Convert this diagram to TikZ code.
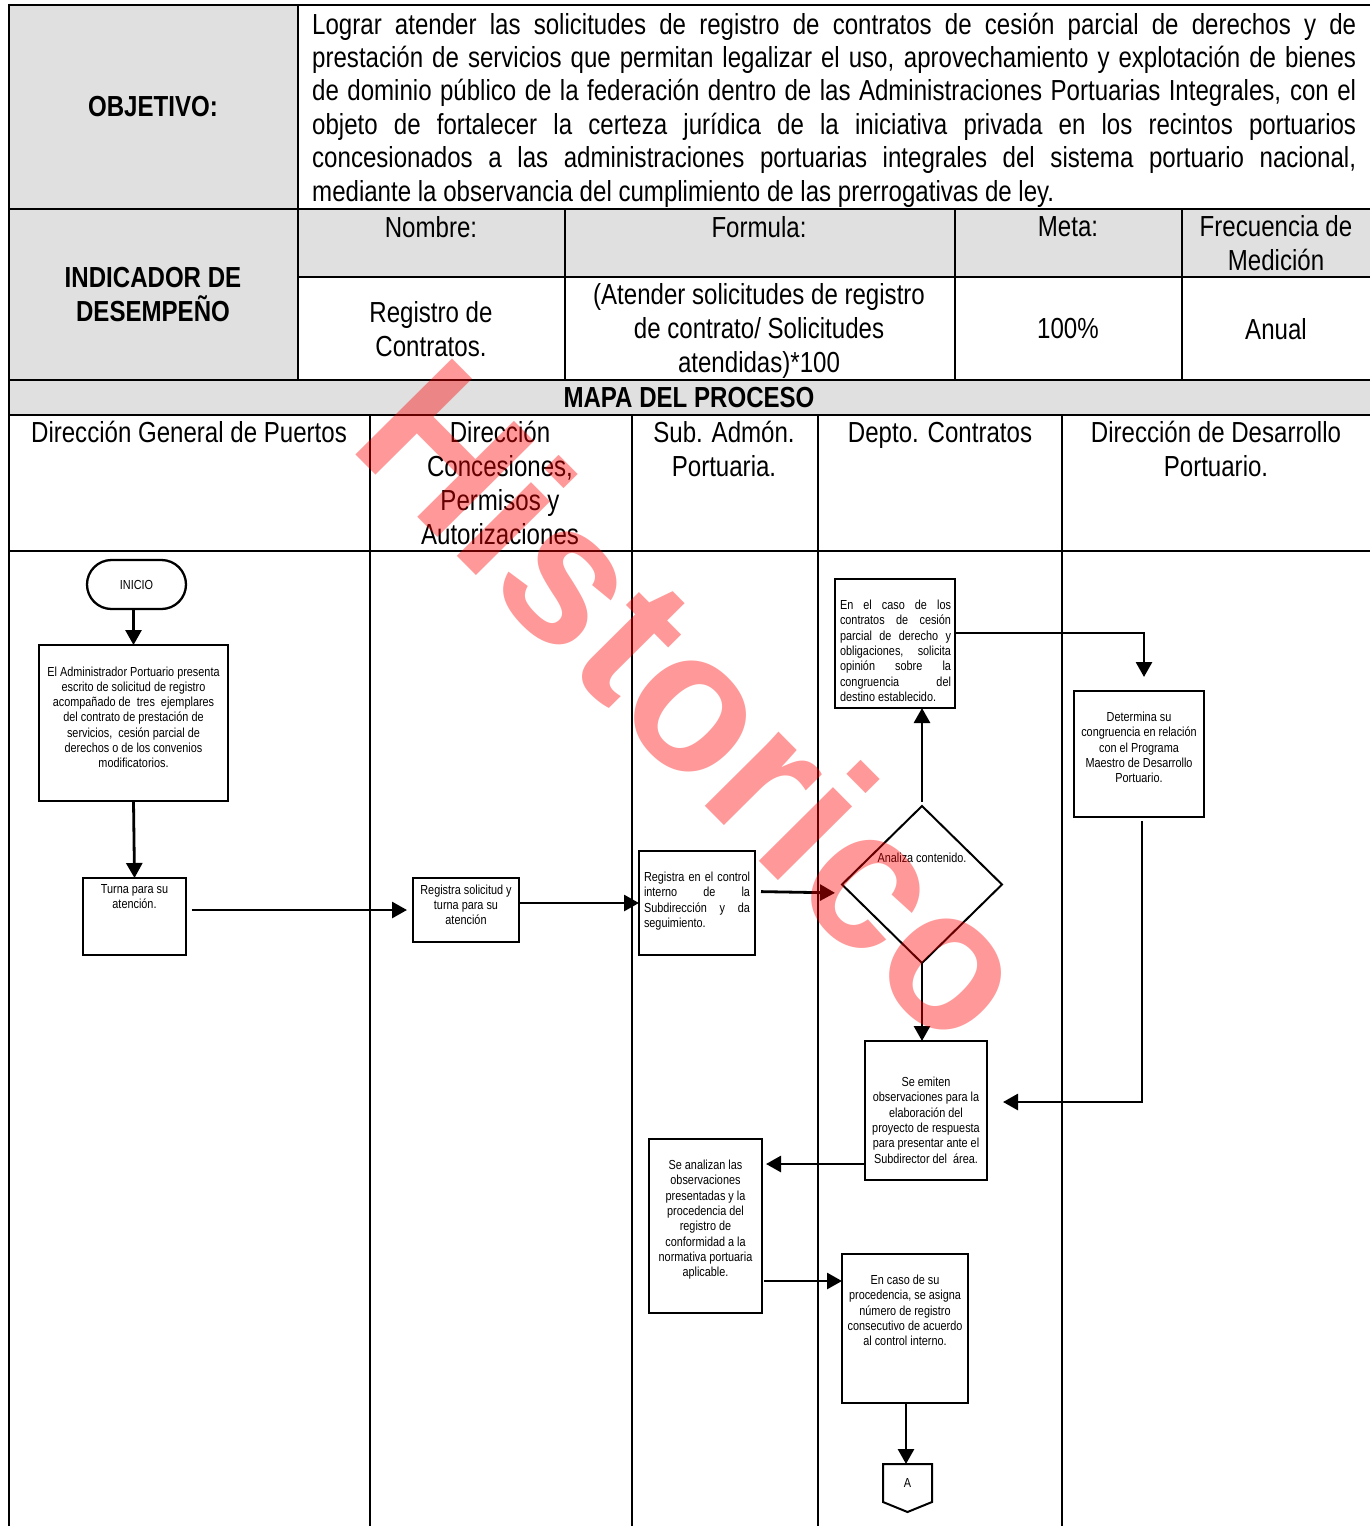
\documentclass[tikz,border=0pt]{standalone}
\usepackage{fontspec}
\setmainfont{Liberation Sans}[FakeStretch=0.83]
\newfontfamily\wmfont{Liberation Sans}
\usetikzlibrary{arrows.meta,shapes.geometric,shapes.misc,calc}
\newcommand{\mainf}{\fontsize{29}{34}\selectfont}
\newcommand{\flowf}{\fontsize{13.1}{15.3}\selectfont}
\newcommand{\fb}[4]{\parbox[c][#2pt][t]{#1pt}{\vspace*{#3pt}\centering #4\par}}
\newcommand{\fj}[4]{\parbox[c][#2pt][t]{#1pt}{\vspace*{#3pt}#4\par}}
\newcommand{\jl}[2]{\hbox to \hsize{\hskip 5pt\hbox to #1pt{#2}\hss}}
\newcommand{\ol}[1]{\hbox to 1044pt{#1}}
\definecolor{cellgrey}{HTML}{E0E0E0}
\tikzset{
  grid/.style={line width=2.8pt,black},
  celltxt/.style={font=\mainf,align=center,inner sep=0pt},
  celltxtb/.style={font=\mainf\bfseries,align=center,inner sep=0pt},
  flowbox/.style={draw=black,line width=2.3pt,inner sep=0pt,outer sep=0pt,font=\flowf},
  flow/.style={line width=2.8pt,black,-{Triangle[length=15pt,width=16pt]}},
}
\begin{document}
\begin{tikzpicture}[x=1pt,y=-1pt]
\useasboundingbox (0,0) rectangle (1370,1526);
\fill[white] (0,0) rectangle (1370,1526);
% grey cells
\fill[cellgrey] (9,5) rectangle (298,380);
\fill[cellgrey] (298,209) rectangle (1370,277);
\fill[cellgrey] (9,380) rectangle (1370,415);
% grid
\draw[grid] (9,5) -- (1370,5);
\draw[grid] (9,209) -- (1370,209);
\draw[grid] (298,277) -- (1370,277);
\draw[grid] (9,380) -- (1370,380);
\draw[grid] (9,415) -- (1370,415);
\draw[grid] (9,551) -- (1370,551);
\draw[grid] (9,3.6) -- (9,1526);
\draw[grid] (298,5) -- (298,380);
\draw[grid] (565,209) -- (565,380);
\draw[grid] (955,209) -- (955,380);
\draw[grid] (1182,209) -- (1182,380);
\draw[grid] (370,415) -- (370,1526);
\draw[grid] (632,415) -- (632,1526);
\draw[grid] (818,415) -- (818,1526);
\draw[grid] (1062,415) -- (1062,1526);
% table text
\node[celltxtb] (obj) at (153,107) {OBJETIVO:};
\node[font=\mainf,inner sep=0pt,anchor=north west] (objtxt) at (312,12.5) {\vbox{\hsize=1044pt\baselineskip=33.45pt
 \ol{Lograr atender las solicitudes de registro de contratos de cesión parcial de derechos y de}
 \ol{prestación de servicios que permitan legalizar el uso, aprovechamiento y explotación de bienes}
 \ol{de dominio público de la federación dentro de las Administraciones Portuarias Integrales, con el}
 \ol{objeto de fortalecer la certeza jurídica de la iniciativa privada en los recintos portuarios}
 \ol{concesionados a las administraciones portuarias integrales del sistema portuario nacional,}
 \hbox{mediante la observancia del cumplimiento de las prerrogativas de ley.}}};
\node[celltxtb] (ind) at (153,295) {INDICADOR DE\\DESEMPEÑO};
\node[celltxt] (h1) at (431,227) {Nombre:};
\node[celltxt] (h2) at (759,227) {Formula:};
\node[celltxt] (h3) at (1068,227) {Meta:};
\node[celltxt] (h4) at (1276,243.5) {Frecuencia de\\Medición};
\node[celltxt] (c1) at (431,329) {Registro de\\Contratos.};
\node[celltxt] (c2) at (759,330.5) {(Atender solicitudes de registro\\de contrato/ Solicitudes\\atendidas)*100};
\node[celltxt] (c3) at (1068,329) {100\%};
\node[celltxt] (c4) at (1276,329) {Anual};
\node[celltxtb] (mapa) at (689,398) {MAPA DEL PROCESO};
\node[celltxt] (s1) at (189,432) {Dirección General de Puertos};
\node[celltxt] (s2) at (500,483) {Dirección\\Concesiones,\\Permisos y\\Autorizaciones};
\node[celltxt] (s3) at (724,449) {Sub. Admón.\\Portuaria.};
\node[celltxt] (s4) at (940,435) {Depto. Contratos};
\node[celltxt] (s5) at (1216,449) {Dirección de Desarrollo\\Portuario.};
% flow nodes
\node[flowbox,rounded rectangle,minimum width=99pt,minimum height=49pt] (inicio) at (136.5,584.5) {\raisebox{-0.5pt}{INICIO}};
\node[flowbox] (admin) at (133.5,723) {\fb{189}{156}{21.5}{El Administrador Portuario presenta\\escrito de solicitud de registro\\acompañado de\ \ tres\ \ ejemplares\\del contrato de prestación de\\servicios,\ \ cesión parcial de\\derechos o de los convenios\\modificatorios.}};
\node[flowbox] (turna) at (134.5,916.5) {\fb{103}{77}{6}{Turna para su\\atención.}};
\node[flowbox] (regsol) at (466,910) {\fb{106}{64}{6.5}{Registra solicitud y\\turna para su\\atención}};
\node[flowbox] (regctl) at (697,903) {\fj{116}{104}{21}{\jl{106}{Registra en el control}\jl{106}{interno de la}\jl{106}{Subdirección y da}\jl{106}{seguimiento.\hfil}}};
\node[flowbox] (caso) at (895,643.5) {\fj{120}{129}{21}{\jl{111}{En el caso de los}\jl{111}{contratos de cesión}\jl{111}{parcial de derecho y}\jl{111}{obligaciones, solicita}\jl{111}{opinión sobre la}\jl{111}{congruencia del}\jl{111}{destino establecido.\hfil}}};
\node[draw=black,line width=2pt,inner sep=0pt,outer sep=0pt,font=\flowf,diamond,aspect=1,minimum width=160pt,minimum height=157pt] (dec) at (922,884.5) {\smash{\raisebox{22pt}{Analiza contenido.}}};
\node[flowbox] (det) at (1139,754) {\fb{130}{126}{21}{Determina su\\congruencia en relación\\con el Programa\\Maestro de Desarrollo\\Portuario.}};
\node[flowbox] (emit) at (926,1110.5) {\fb{122}{139}{36}{Se emiten\\observaciones para la\\elaboración del\\proyecto de respuesta\\para presentar ante el\\Subdirector del\ \ área.}};
\node[flowbox] (anal) at (705.5,1226) {\fb{113}{174}{21}{Se analizan las\\observaciones\\presentadas y la\\procedencia del\\registro de\\conformidad a la\\normativa portuaria\\aplicable.}};
\node[flowbox] (proc) at (905,1328.5) {\fb{126}{149}{21}{En caso de su\\procedencia, se asigna\\número de registro\\consecutivo de acuerdo\\al control interno.}};
\node[inner sep=0pt,outer sep=0pt,minimum width=49pt,minimum height=48pt,font=\flowf] (conn) at (907.5,1488) {\smash{\raisebox{1pt}{A}}};
\draw[line width=2pt] (conn.north west) -- (conn.north east) -- ($(conn.south east)+(0,-10)$) -- (conn.south) -- ($(conn.south west)+(0,-10)$) -- cycle;
% connectors
\coordinate (xa) at (133.5,0);
\coordinate (y1) at (0,910);
\coordinate (y2) at (0,903);
\coordinate (y8) at (0,891.5);
\coordinate (y9) at (0,893);
\coordinate (xb) at (922,0);
\coordinate (y3) at (0,633);
\coordinate (x4) at (1144,0);
\coordinate (x5) at (1142,0);
\coordinate (y5) at (0,1102);
\coordinate (y6) at (0,1164);
\coordinate (y7) at (0,1281);
\coordinate (x8) at (906,0);
\draw[flow] (inicio.south -| xa) -- (admin.north -| xa);
\draw[flow] (admin.south -| xa) -- (turna.north);
\draw[flow,shorten <=5.5pt,shorten >=6pt] (turna.east |- y1) -- (regsol.west |- y1);
\draw[flow] (regsol.east |- y2) -- (regctl.west |- y2);
\draw[flow,shorten <=6pt,shorten >=7pt] (regctl.east |- y8) -- (dec.west |- y9);
\draw[flow,shorten <=4pt] (dec.north) -- (caso.south -| xb);
\draw[flow,shorten >=14pt] (caso.east |- y3) -- (x4 |- y3) -- (x4 |- det.north);
\draw[flow,shorten <=4pt,shorten >=16pt] (det.south -| x5) -- (x5 |- y5) -- (emit.east |- y5);
\draw[flow] (dec.south) -- (emit.north -| xb);
\draw[flow,shorten >=4pt] (emit.west |- y6) -- (anal.east |- y6);
\draw[flow,shorten <=2pt] (anal.east |- y7) -- (proc.west |- y7);
\draw[flow] (proc.south -| x8) -- (conn.north -| x8);
% watermark
\node[red,text opacity=0.4,inner sep=0pt,rotate=-45.2,font=\wmfont\bfseries\fontsize{198}{200}\selectfont] (wm) at (699,700) {Historico};
\end{tikzpicture}
\end{document}
